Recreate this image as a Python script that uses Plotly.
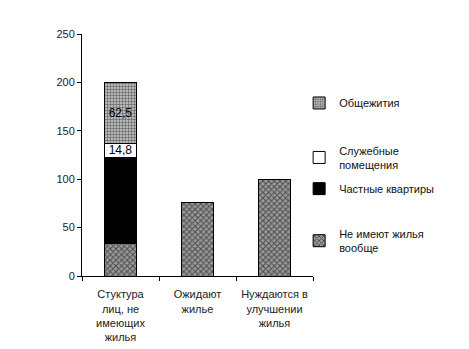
import plotly.graph_objects as go

categories = ["Стуктура<br>лиц, не<br>имеющих<br>жилья", "Ожидают<br>жилье", "Нуждаются в<br>улучшении<br>жилья"]
no_housing = [33.5, 76, 100]
private_flats = [89, None, None]
service_rooms = [14.8, None, None]
dormitories = [62.5, None, None]
series_names = ["Не имеют жилья<br>вообще", "Частные квартиры", "Служебные<br>помещения", "Общежития"]
y_ticks = [0, 50, 100, 150, 200, 250]

def labels(vals, show):
    if not show:
        return None
    return [("" if v is None else f"{v:.1f}".replace(".", ",")) for v in vals]

FONT = "Liberation Sans, Arial, sans-serif"

fig = go.Figure()
fig.add_trace(go.Bar(
    x=categories, y=no_housing, name=series_names[0], legend="legend", showlegend=True,
    marker=dict(color="white", line=dict(color="black", width=1),
                pattern=dict(shape="x", fgcolor="black", bgcolor="#9a9a9a", size=4, solidity=0.45)),
))
fig.add_trace(go.Bar(
    x=categories, y=private_flats, name=series_names[1], legend="legend2", showlegend=True,
    marker=dict(color="black", line=dict(color="black", width=1)),
))
fig.add_trace(go.Bar(
    x=categories, y=service_rooms, name=series_names[2], legend="legend3", showlegend=True,
    text=labels(service_rooms, True), textposition="inside", insidetextanchor="middle",
    textangle=0, textfont=dict(color="black", size=12, family=FONT),
    marker=dict(color="white", line=dict(color="black", width=1)),
))
fig.add_trace(go.Bar(
    x=categories, y=dormitories, name=series_names[3], legend="legend4", showlegend=True,
    text=labels(dormitories, True), textposition="inside", insidetextanchor="middle",
    textangle=0, textfont=dict(color="black", size=12, family=FONT),
    marker=dict(color="white", line=dict(color="black", width=1),
                pattern=dict(shape=".", fgcolor="black", bgcolor="#d0d0d0", size=3, solidity=0.5)),
))

def leg(y):
    return dict(x=0.94, xanchor="left", y=y, yanchor="middle",
                bgcolor="rgba(0,0,0,0)", font=dict(size=11, color="#111", family=FONT),
                itemwidth=30, visible=True)

fig.update_layout(
    width=469, height=349,
    margin=dict(l=82, r=156, t=34, b=72.5),
    paper_bgcolor="white", plot_bgcolor="white",
    barmode="stack", bargap=0.58, showlegend=True,
    font=dict(family=FONT, color="#111"),
    uniformtext=dict(minsize=10, mode="show"),
    legend=leg(0.145), legend2=leg(0.361), legend3=leg(0.489), legend4=leg(0.715),
)
fig.update_yaxes(range=[0, 250], tickvals=y_ticks, showgrid=False, zeroline=False,
                 showline=True, linecolor="black", linewidth=1, automargin=False,
                 ticks="outside", ticklen=4, tickcolor="black",
                 tickfont=dict(size=11, color="#222"))
fig.update_xaxes(showgrid=False, showline=True, linecolor="black", linewidth=1,
                 ticks="outside", ticklen=4, tickcolor="black", tickson="boundaries",
                 ticklabelstandoff=8, automargin=False,
                 tickfont=dict(size=11, color="#222"))

fig.write_html("out.html")
